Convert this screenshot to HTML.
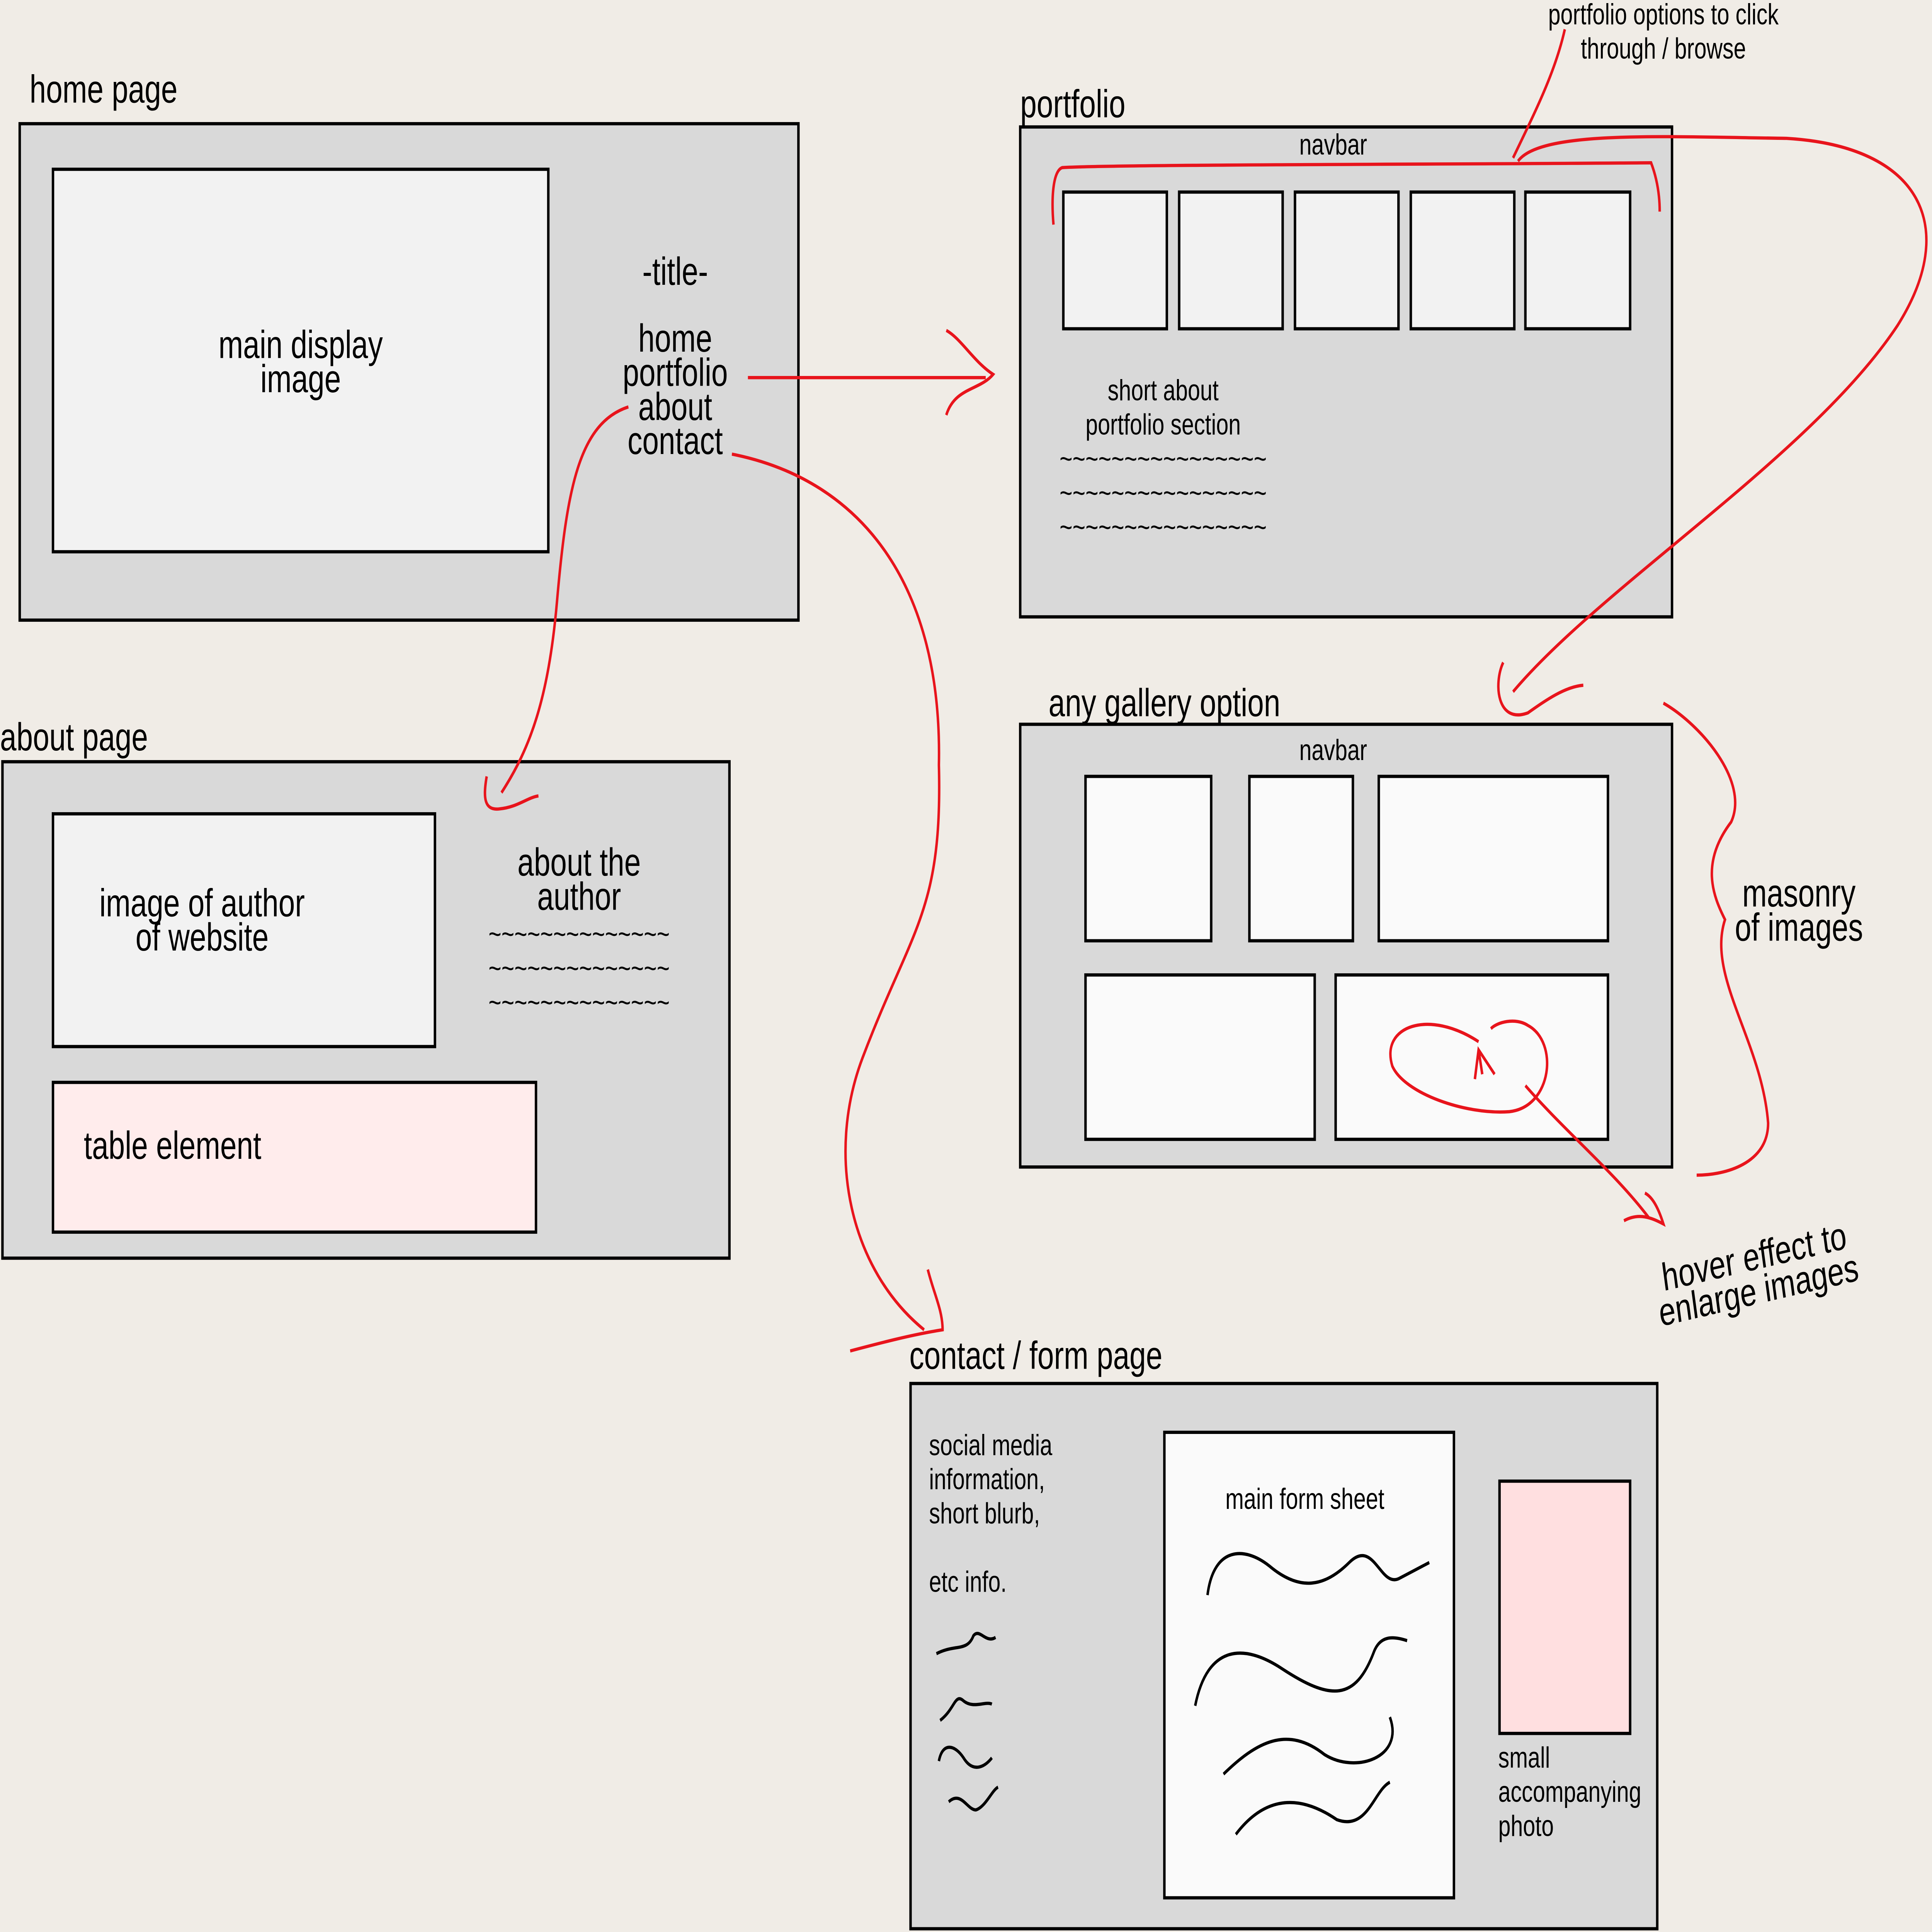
<!DOCTYPE html>
<html><head><meta charset="utf-8"><style>
html,body{margin:0;padding:0;background:#f0ece6;width:100vw;height:100vh;overflow:hidden;}
svg{display:block;width:100vw;height:100vh;}
text{font-family:"Liberation Sans","DejaVu Sans",sans-serif;fill:#000;}
</style></head><body>
<svg viewBox="0 0 1568 1187" preserveAspectRatio="none" xmlns="http://www.w3.org/2000/svg">
<rect x="0" y="0" width="1568" height="1187" fill="#f0ece6"/>
<g stroke="#000" stroke-width="2">
<rect x="16" y="76" width="632" height="305" fill="#d9d9d9"/>
<rect x="43" y="104" width="402" height="235" fill="#f2f2f2"/>
<rect x="828" y="78" width="529" height="301" fill="#d9d9d9"/>
<rect x="863" y="118" width="84" height="84" fill="#f2f2f2"/>
<rect x="957" y="118" width="84" height="84" fill="#f2f2f2"/>
<rect x="1051" y="118" width="84" height="84" fill="#f2f2f2"/>
<rect x="1145" y="118" width="84" height="84" fill="#f2f2f2"/>
<rect x="1238" y="118" width="85" height="84" fill="#f2f2f2"/>
<rect x="828" y="445" width="529" height="272" fill="#d9d9d9"/>
<rect x="881" y="477" width="102" height="101" fill="#fafafa"/>
<rect x="1014" y="477" width="84" height="101" fill="#fafafa"/>
<rect x="1119" y="477" width="186" height="101" fill="#fafafa"/>
<rect x="881" y="599" width="186" height="101" fill="#fafafa"/>
<rect x="1084" y="599" width="221" height="101" fill="#fafafa"/>
<rect x="2" y="468" width="590" height="305" fill="#d9d9d9"/>
<rect x="43" y="500" width="310" height="143" fill="#f2f2f2"/>
<rect x="43" y="665" width="392" height="92" fill="#ffecec"/>
<rect x="739" y="850" width="606" height="335" fill="#d9d9d9"/>
<rect x="945" y="880" width="235" height="286" fill="#fafafa"/>
<rect x="1217" y="910" width="106" height="155" fill="#ffdfe0"/>
</g>
<g font-size="24">
<text x="24" y="63">home page</text>
<text x="828" y="72">portfolio</text>
<text x="851" y="440">any gallery option</text>
<text x="0" y="461">about page</text>
<text x="738" y="841">contact / form page</text>
</g>
<g font-size="24" text-anchor="middle">
<text x="244" y="220">main display</text>
<text x="244" y="241">image</text>
<text x="548" y="175">-title-</text>
<text x="548" y="216">home</text>
<text x="548" y="237">portfolio</text>
<text x="548" y="258">about</text>
<text x="548" y="279">contact</text>
<text x="164" y="563">image of author</text>
<text x="164" y="584">of website</text>
<text x="470" y="538">about the</text>
<text x="470" y="559">author</text>
<text x="1460" y="557">masonry</text>
<text x="1460" y="578">of images</text>
</g>
<text x="68" y="712" font-size="24">table element</text>
<g font-size="18" text-anchor="middle">
<text x="1082" y="95">navbar</text>
<text x="1082" y="467">navbar</text>
<text x="944" y="246">short about</text>
<text x="944" y="267">portfolio section</text>
<text x="944" y="288">~~~~~~~~~~~~~~~~</text>
<text x="944" y="309">~~~~~~~~~~~~~~~~</text>
<text x="944" y="330">~~~~~~~~~~~~~~~~</text>
<text x="470" y="580">~~~~~~~~~~~~~~</text>
<text x="470" y="601">~~~~~~~~~~~~~~</text>
<text x="470" y="622">~~~~~~~~~~~~~~</text>
<text x="1350" y="15">portfolio options to click</text>
<text x="1350" y="36">through / browse</text>
<text x="1059" y="927">main form sheet</text>
</g>
<g font-size="18">
<text x="754" y="894">social media</text>
<text x="754" y="915">information,</text>
<text x="754" y="936">short blurb,</text>
<text x="754" y="978">etc info.</text>
<text x="1216" y="1086">small</text>
<text x="1216" y="1107">accompanying</text>
<text x="1216" y="1128">photo</text>
</g>
<g transform="rotate(-10 1425 780)" font-size="24" text-anchor="middle">
<text x="1425" y="780">hover effect to</text>
<text x="1425" y="801">enlarge images</text>
</g>
<g fill="none" stroke="#000" stroke-width="2">
<path d="M980,980 C985,950 1010,950 1030,962 C1055,978 1075,975 1095,960 C1115,945 1120,975 1135,970 L1160,960"/>
<path d="M970,1048 C980,1010 1010,1010 1040,1025 C1080,1045 1100,1045 1115,1015 C1120,1005 1130,1005 1142,1008"/>
<path d="M993,1090 C1020,1070 1045,1060 1075,1078 C1100,1090 1140,1080 1128,1055"/>
<path d="M1003,1127 C1030,1100 1060,1105 1085,1118 C1110,1125 1115,1100 1128,1095"/>
<path d="M760,1016 C775,1010 785,1015 790,1005 C795,1000 800,1010 808,1006"/>
<path d="M763,1057 C775,1050 775,1040 782,1045 C790,1050 800,1045 805,1047"/>
<path d="M762,1082 C765,1070 775,1072 782,1080 C790,1090 800,1085 805,1080"/>
<path d="M770,1107 C780,1100 785,1112 792,1112 C800,1110 805,1100 810,1098"/>
</g>
<g fill="none" stroke="#e8141c" stroke-width="2">
<path d="M607,232 L800,232"/>
<path d="M768,203 C780,208 790,222 806,230 C795,240 775,238 768,255"/>
<path d="M855,138 C853,120 855,105 862,103 C900,101 1200,101 1340,100 C1345,110 1347,120 1347,130"/>
<path d="M1270,18 C1262,45 1245,70 1228,97"/>
<path d="M1232,99 C1250,80 1350,84 1450,85 C1560,90 1590,140 1540,200 C1470,280 1300,360 1228,425"/>
<path d="M1220,407 C1212,420 1215,445 1240,438 C1255,430 1270,422 1285,421"/>
<path d="M1350,432 C1380,445 1420,480 1405,505 C1380,530 1390,550 1400,565 C1385,600 1430,640 1435,690 C1435,715 1400,722 1377,722"/>
<path d="M1200,640 C1160,620 1120,630 1130,655 C1140,672 1190,685 1225,683 C1260,680 1265,640 1240,630 C1230,625 1215,628 1210,632"/>
<path d="M1197,663 L1200,645 L1213,660 M1200,645 L1203,660"/>
<path d="M1238,667 C1270,695 1310,720 1338,748"/>
<path d="M1318,750 C1330,745 1340,748 1350,752 C1345,740 1340,735 1335,733"/>
<path d="M510,250 C470,260 460,300 452,370 C445,430 430,460 407,487"/>
<path d="M395,477 C392,490 393,498 405,497 C420,496 428,490 437,489"/>
<path d="M594,279 C700,295 765,360 762,470 C765,560 740,570 700,650 C670,710 690,780 750,817"/>
<path d="M690,830 C715,825 740,820 765,817 C765,805 758,795 753,780"/>
</g>
</svg>
</body></html>
